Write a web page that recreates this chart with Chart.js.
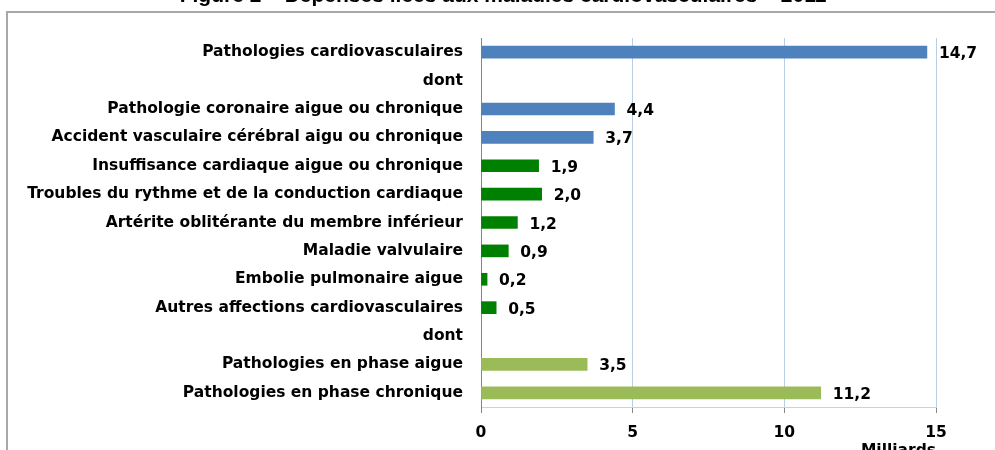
<!DOCTYPE html>
<html>
<head>
  <meta charset="utf-8" />
  <script src="https://cdn.jsdelivr.net/npm/chart.js@4.4.0/dist/chart.umd.min.js"></script>
  <style>
    body { margin:0; background:#fff; width:995px; height:450px; overflow:hidden; position:relative; }
    #frame { position:absolute; left:6px; top:11px; width:1100px; height:600px; border:2px solid #a8a8a8; pointer-events:none; }
    #holder { position:absolute; left:0; top:-16px; width:995px; height:476px; }
  </style>
</head>
<body>
<div id="frame"></div>
<div id="holder"><canvas id="chart"></canvas></div>

<script>
const TITLE = "Figure 2 – Dépenses liées aux maladies cardiovasculaires – 2011";
const categories = [
  "Pathologies cardiovasculaires",
  "dont",
  "Pathologie coronaire aigue ou chronique",
  "Accident vasculaire cérébral aigu ou chronique",
  "Insuffisance cardiaque aigue ou chronique",
  "Troubles du rythme et de la conduction cardiaque",
  "Artérite oblitérante du membre inférieur",
  "Maladie valvulaire",
  "Embolie pulmonaire aigue",
  "Autres affections cardiovasculaires",
  "dont",
  "Pathologies en phase aigue",
  "Pathologies en phase chronique"
];
const values = [14.7, null, 4.4, 3.7, 1.9, 2.0, 1.2, 0.9, 0.2, 0.5, null, 3.5, 11.2];
const barColors = ["#4f81bd", null, "#4f81bd", "#4f81bd", "#008000", "#008000", "#008000",
                   "#008000", "#008000", "#008000", null, "#9bbb59", "#9bbb59"];
const xTicks = [0, 5, 10, 15];

const FONT = "'DejaVu Sans', sans-serif";
const FS = 15.5;

// value labels after each bar, comma decimals
const valueLabels = {
  id: "valueLabels",
  afterLayout(chart) {
    // title is centred on the whole figure, not only the left part
    if (chart.titleBlock) chart.titleBlock.right += 70;
  },
  afterDatasetsDraw(chart) {
    const ctx = chart.ctx;
    const meta = chart.getDatasetMeta(0);
    ctx.save();
    ctx.font = "bold " + FS + "px " + FONT;
    ctx.fillStyle = "#000";
    ctx.textAlign = "left";
    ctx.textBaseline = "middle";
    meta.data.forEach((bar, i) => {
      const v = values[i];
      if (v == null) return;
      ctx.fillText(v.toFixed(1).replace(".", ","), bar.x + 12, bar.y + 2);
    });
    ctx.restore();
  }
};

new Chart(document.getElementById("chart"), {
  type: "bar",
  data: {
    labels: categories,
    datasets: [{
      data: values,
      backgroundColor: barColors,
      barThickness: 12
    }]
  },
  options: {
    indexAxis: "y",
    responsive: true,
    maintainAspectRatio: false,
    animation: false,
    layout: { padding: { left: 0, right: 59, top: 0, bottom: 0 } },
    plugins: {
      legend: { display: false },
      tooltip: { enabled: false },
      title: {
        display: true,
        text: TITLE,
        color: "#000",
        font: { family: "'Liberation Sans', Arial, sans-serif", size: 21, weight: "bold" },
        padding: { top: 0, bottom: 28.8 }
      }
    },
    scales: {
      x: {
        min: 0, max: 15,
        afterBuildTicks: s => { s.ticks = xTicks.map(v => ({ value: v })); },
        afterFit: s => { s.height = 53; },
        grid: { color: "#b9cde5", lineWidth: 1, drawTicks: true, tickLength: 6, tickColor: "#868686" },
        border: { color: "#c9d3de" },
        ticks: { color: "#000", padding: 11, font: { family: FONT, size: FS, weight: "bold" } },
        title: {
          display: true, text: "Milliards", align: "end", color: "#000",
          padding: { top: 0, bottom: 0 },
          font: { family: FONT, size: FS, weight: "bold" }
        }
      },
      y: {
        afterFit: s => { s.width = 481; },
        grid: { display: false, drawTicks: false },
        border: { color: "#868686", width: 1 },
        ticks: { color: "#000", padding: 18, autoSkip: false, font: { family: FONT, size: FS, weight: "bold" } }
      }
    }
  },
  plugins: [valueLabels]
});
</script>
</body>
</html>
